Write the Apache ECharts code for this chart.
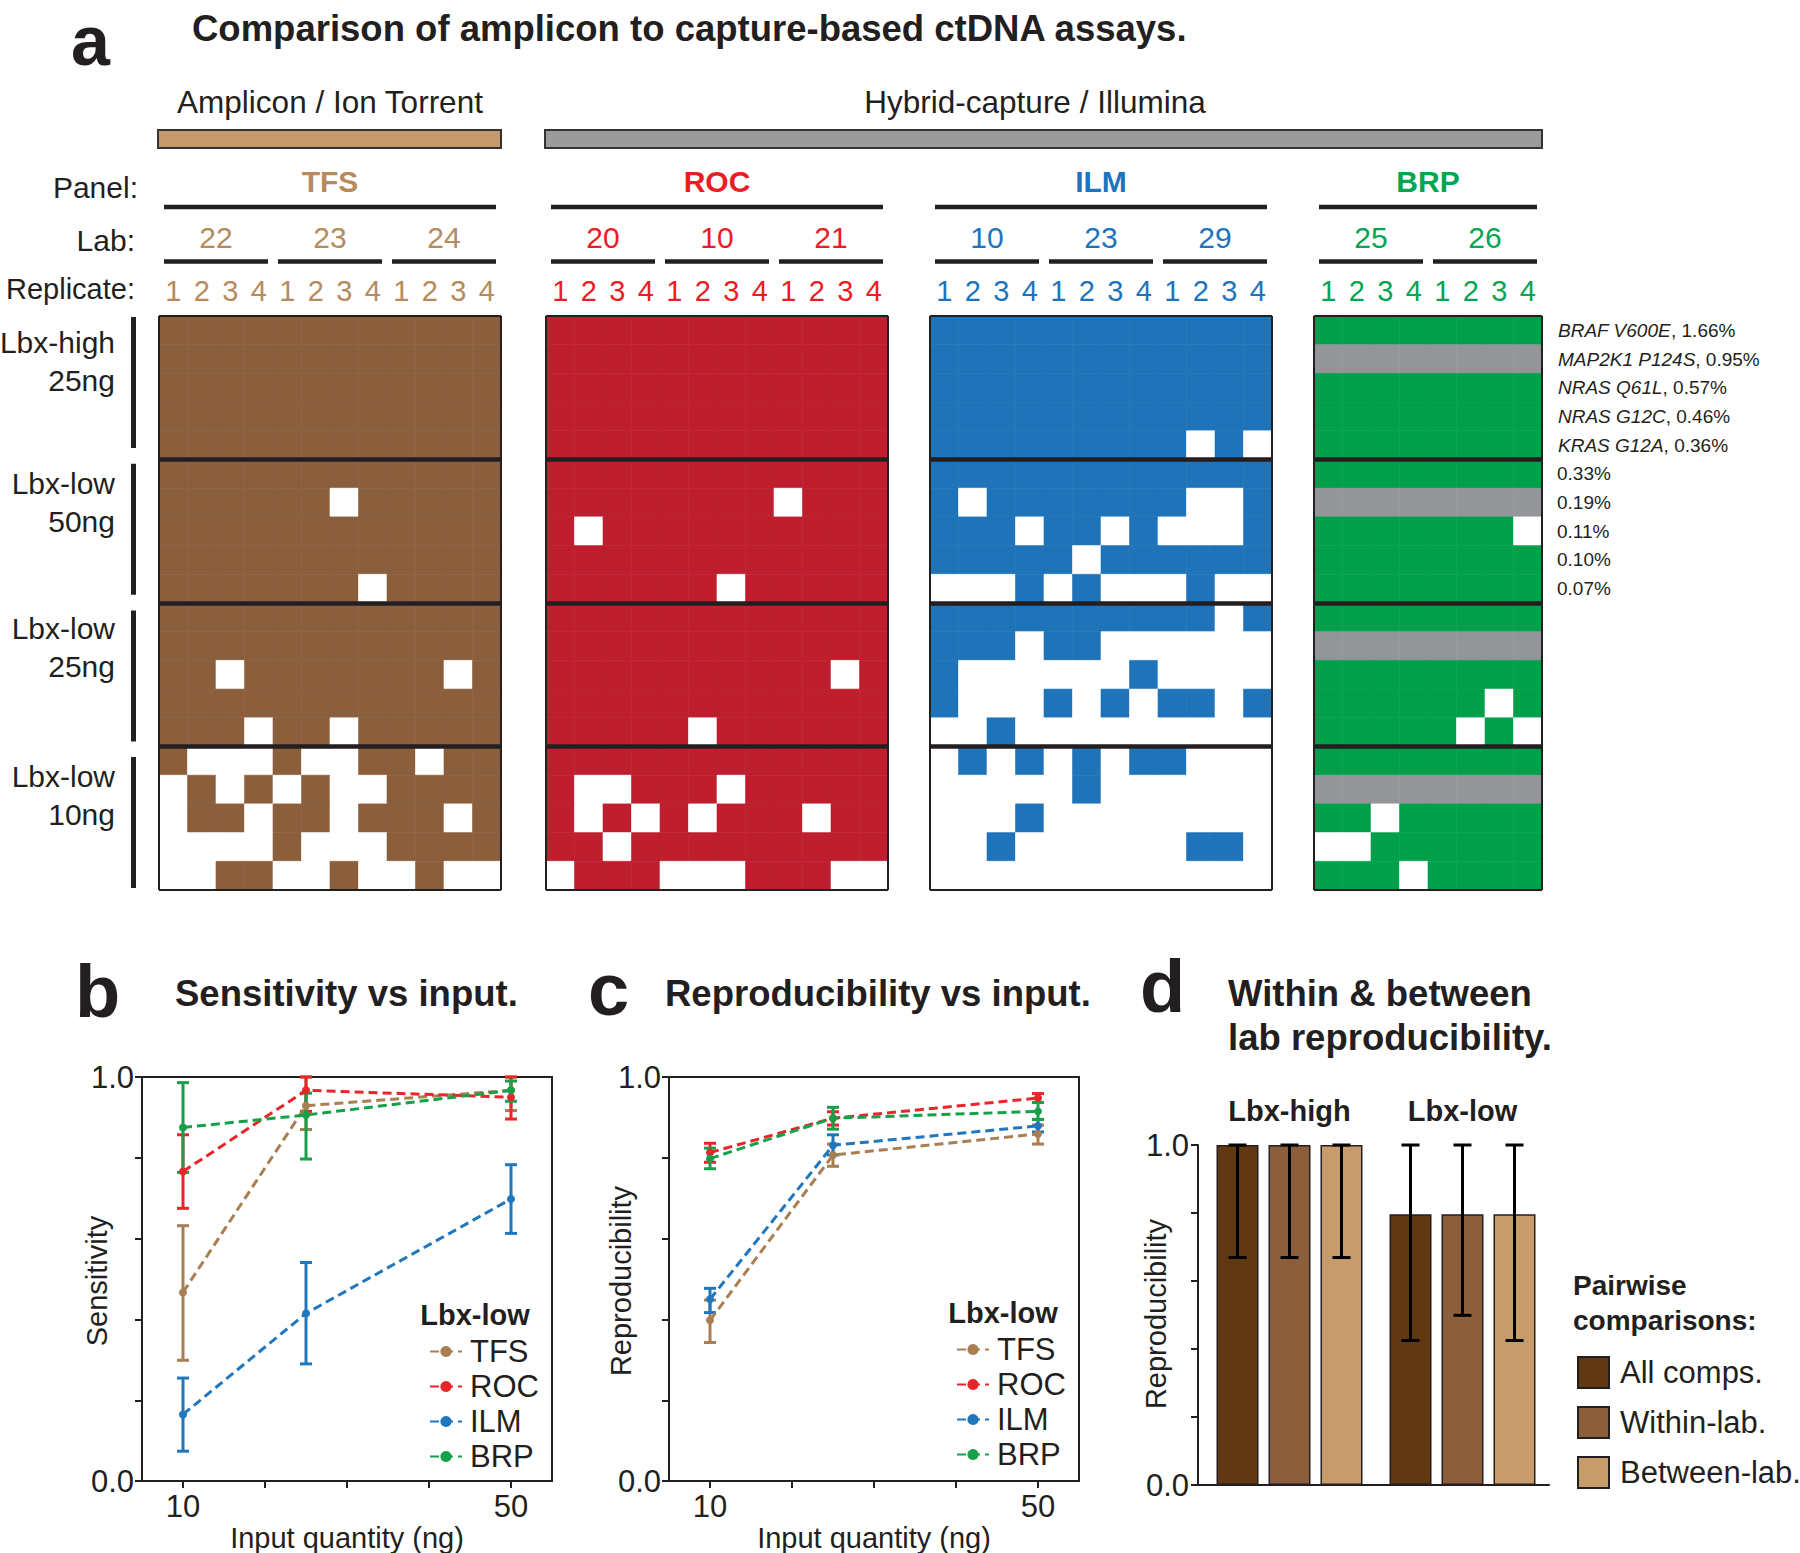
<!DOCTYPE html>
<html><head><meta charset="utf-8">
<script src="https://cdn.jsdelivr.net/npm/echarts@6/dist/echarts.min.js"></script>
<style>html,body{margin:0;padding:0;background:#fff}#c{width:1800px;height:1553px}</style>
</head><body><div id="c"></div>
<script>
// ================= DATA =================
const replicateLabels = ['1', '2', '3', '4'];
const tfsLabs = ['22', '23', '24'];
const rocLabs = ['20', '10', '21'];
const ilmLabs = ['10', '23', '29'];
const brpLabs = ['25', '26'];
const rowGroupNames = [['Lbx-high', '25ng'], ['Lbx-low', '50ng'], ['Lbx-low', '25ng'], ['Lbx-low', '10ng']];
const mutGenes = ['BRAF V600E', 'MAP2K1 P124S', 'NRAS Q61L', 'NRAS G12C', 'KRAS G12A'];
const vafHigh = ['1.66%', '0.95%', '0.57%', '0.46%', '0.36%'];
const vafLow = ['0.33%', '0.19%', '0.11%', '0.10%', '0.07%'];

// variant calls per row (5 variants x 4 samples), per column (lab x replicate)
// 1 = detected, 0 = not detected, x = not in panel
const tfsCalls = [
  '111111111111', '111111111111', '111111111111', '111111111111', '111111111111',
  '111111111111', '111111011111', '111111111111', '111111111111', '111111101111',
  '111111111111', '111111111111', '110111111101', '111111111111', '111011011111',
  '100010011011', '010101001111', '011011011101', '000010001111', '001100100100'
];
const rocCalls = [
  '111111111111', '111111111111', '111111111111', '111111111111', '111111111111',
  '111111111111', '111111110111', '101111111111', '111111111111', '111111011111',
  '111111111111', '111111111111', '111111111101', '111111111111', '111110111111',
  '111111111111', '100111011111', '101010111011', '110111111111', '011100011100'
];
const ilmCalls = [
  '111111111111', '111111111111', '111111111111', '111111111111', '111111111010',
  '111111111111', '101111111001', '111011010001', '111110111111', '000101000100',
  '111111111101', '111011000000', '100000010000', '100010101101', '001000000000',
  '010101011000', '000001000000', '000100000000', '001000000110', '000000000000'
];
const brpCalls = [
  '11111111', 'xxxxxxxx', '11111111', '11111111', '11111111',
  '11111111', 'xxxxxxxx', '11111110', '11111111', '11111111',
  '11111111', 'xxxxxxxx', '11111111', '11111101', '11111010',
  '11111111', 'xxxxxxxx', '11011111', '00111111', '11101111'
];

// panels b & c
const inputNg = [10, 25, 50];
const inputTicks = [10, 20, 30, 40, 50];
const inputLabels = [10, 50];
const sensTFS = [0.467, 0.929, 0.967], sensTFSLo = [0.299, 0.870, 0.917], sensTFSHi = [0.632, 1.0, 1.0];
const sensROC = [0.766, 0.967, 0.950], sensROCLo = [0.675, 0.915, 0.896], sensROCHi = [0.857, 1.0, 1.0];
const sensILM = [0.165, 0.415, 0.698], sensILMLo = [0.074, 0.290, 0.613], sensILMHi = [0.255, 0.541, 0.783];
const sensBRP = [0.875, 0.906, 0.967], sensBRPLo = [0.764, 0.797, 0.940], sensBRPHi = [0.986, 0.960, 0.990];

const repTFS = [0.398, 0.807, 0.859], repTFSLo = [0.343, 0.779, 0.834], repTFSHi = [0.448, 0.834, 0.881];
const repROC = [0.813, 0.898, 0.948], repROCLo = [0.789, 0.881, 0.937], repROCHi = [0.836, 0.914, 0.959];
const repILM = [0.450, 0.831, 0.879], repILMLo = [0.417, 0.807, 0.864], repILMHi = [0.477, 0.857, 0.895];
const repBRP = [0.798, 0.898, 0.915], repBRPLo = [0.773, 0.871, 0.895], repBRPHi = [0.824, 0.925, 0.937];

// panel d
const pairGroups = ['Lbx-high', 'Lbx-low'];
const pairTypes = ['All comps.', 'Within-lab.', 'Between-lab.'];
const reproAll = [1.0, 0.796], reproAllLo = [0.669, 0.425], reproAllHi = [1.0, 1.0];
const reproWithin = [1.0, 0.796], reproWithinLo = [0.669, 0.499], reproWithinHi = [1.0, 1.0];
const reproBetween = [1.0, 0.796], reproBetweenLo = [0.669, 0.425], reproBetweenHi = [1.0, 1.0];

// ================= STYLE / LAYOUT =================
const FONT = '"Liberation Sans", Arial, Helvetica, sans-serif';
const INK = '#231f20';
const GRAY = '#939598';
const HM_TOP = 316, HM_H = 574;
const panels = [
  { name: 'TFS', calls: tfsCalls, labs: tfsLabs, fill: '#8B5E3C', text: '#B68B5C', left: 159, width: 342 },
  { name: 'ROC', calls: rocCalls, labs: rocLabs, fill: '#BE1E2D', text: '#EC1C24', left: 546, width: 342 },
  { name: 'ILM', calls: ilmCalls, labs: ilmLabs, fill: '#1F73B9', text: '#1C75BC', left: 930, width: 342 },
  { name: 'BRP', calls: brpCalls, labs: brpLabs, fill: '#00A04B', text: '#00A651', left: 1314, width: 228 }
];
const lineColors = { TFS: '#A87E52', ROC: '#E8262A', ILM: '#2177BD', BRP: '#16A04A' };
const barColors = ['#603913', '#8B5E3C', '#C69C6D'];
const rowLabelY = [342, 483, 628, 776];

const chart = echarts.init(document.getElementById('c'), null, { renderer: 'svg', width: 1800, height: 1553 });
const grid = [], xAxis = [], yAxis = [], series = [], graphic = [];

function txt(x, y, text, o, extra) {
  graphic.push(Object.assign({ type: 'text', x, y, silent: true, z: 10,
    style: Object.assign({ text, fontFamily: FONT, fontSize: 29, fill: INK, align: 'left', verticalAlign: 'middle' }, o || {}) }, extra || {}));
}
function seg(x1, y1, x2, y2, w, color) {
  graphic.push({ type: 'line', silent: true, z: 10, shape: { x1, y1, x2, y2 }, style: { stroke: color || INK, lineWidth: w } });
}

// ---------- panel a : heatmaps ----------
panels.forEach((p, i) => {
  const nCols = p.calls[0].length, nRows = p.calls.length;
  grid.push({ left: p.left, top: HM_TOP, width: p.width, height: HM_H });
  xAxis.push({ gridIndex: i, type: 'value', min: 0, max: nCols, show: false });
  yAxis.push({ gridIndex: i, type: 'value', min: 0, max: nRows, inverse: true, show: false });
  const data = [];
  p.calls.forEach((row, r) => row.split('').forEach((ch, c) => data.push([c, r, ch === '1' ? 1 : (ch === '0' ? 0 : 2)])));
  const sepData = [];
  for (let b = 5; b < nRows; b += 5) sepData.push({ yAxis: b, lineStyle: { width: 4.5 } });
  sepData.push({ yAxis: 0, lineStyle: { width: 2 } }, { yAxis: nRows, lineStyle: { width: 2 } },
               { xAxis: 0, lineStyle: { width: 2 } }, { xAxis: nCols, lineStyle: { width: 2 } });
  series.push({
    type: 'custom', name: p.name + ' calls', xAxisIndex: i, yAxisIndex: i, data, silent: true,
    renderItem: (params, api) => {
      const c = api.value(0), r = api.value(1), s = api.value(2);
      const a = api.coord([c, r]), b = api.coord([c + 1, r + 1]);
      const col = s === 1 ? p.fill : (s === 2 ? GRAY : '#ffffff');
      return { type: 'rect', shape: { x: a[0], y: a[1], width: b[0] - a[0], height: b[1] - a[1] },
               style: { fill: col, stroke: col, lineWidth: 0.6 } };
    },
    markLine: { silent: true, symbol: ['none', 'none'], label: { show: false }, animation: false,
                lineStyle: { color: INK, type: 'solid' }, emphasis: { disabled: true }, data: sepData }
  });

  // headers
  const cw = p.width / nCols, right = p.left + p.width;
  txt(p.left + p.width / 2, 181, p.name, { align: 'center', fontSize: 30, fontWeight: 'bold', fill: p.text });
  seg(p.left + 5, 207, right - 5, 207, 4.5);
  p.labs.forEach((lab, j) => {
    const gx = p.left + j * 4 * cw;
    txt(gx + 2 * cw, 237, lab, { align: 'center', fontSize: 30, fill: p.text });
    seg(gx + 5, 261.5, gx + 4 * cw - 5, 261.5, 4.5);
  });
  for (let k = 0; k < nCols; k++) {
    txt(p.left + (k + 0.5) * cw, 291, replicateLabels[k % 4], { align: 'center', fontSize: 29, fill: p.text });
  }
});

// platform bars
const pT = panels[0], pR = panels[1], pB = panels[3];
graphic.push({ type: 'rect', silent: true, z: 10, shape: { x: pT.left - 1, y: 130, width: pT.width + 1, height: 18 },
  style: { fill: '#C49A6C', stroke: '#333333', lineWidth: 2 } });
graphic.push({ type: 'rect', silent: true, z: 10, shape: { x: pR.left - 1, y: 130, width: pB.left + pB.width - pR.left + 1, height: 18 },
  style: { fill: '#9B9B9B', stroke: '#333333', lineWidth: 2 } });
txt(pT.left + pT.width / 2, 102, 'Amplicon / Ion Torrent', { align: 'center', fontSize: 31.5 });
txt(1035, 102, 'Hybrid-capture / Illumina', { align: 'center', fontSize: 31.5 });

const BIG = { fontSize: 74, fontWeight: 'bold' };
txt(71, 41, 'a', { fontSize: 70, fontWeight: 'bold' });
txt(192, 28, 'Comparison of amplicon to capture-based ctDNA assays.', { fontSize: 36.5, fontWeight: 'bold' });
txt(138, 187, 'Panel:', { align: 'right', fontSize: 30 });
txt(135, 240, 'Lab:', { align: 'right', fontSize: 30 });
txt(135, 289, 'Replicate:', { align: 'right', fontSize: 29 });

rowGroupNames.forEach((nm, g) => {
  const top = 317 + 146.7 * g;
  seg(133.5, top, 133.5, top + 131, 5);
  txt(115, rowLabelY[g], nm[0], { align: 'right', fontSize: 30 });
  txt(115, rowLabelY[g] + 38, nm[1], { align: 'right', fontSize: 30 });
});

const rowH = HM_H / 20;
mutGenes.forEach((g, k) => {
  txt(1558, HM_TOP + rowH * (k + 0.5), '{i|' + g + '}, ' + vafHigh[k], {
    fontSize: 19, rich: { i: { fontStyle: 'italic', fontSize: 19, fontFamily: FONT, fill: INK } } });
});
vafLow.forEach((v, k) => {
  txt(1557, HM_TOP + rowH * (k + 5.5), v, { fontSize: 19 });
});

// ---------- panels b & c ----------
function errRender(color, cap, w) {
  return (params, api) => {
    const x = api.value(0), lo = api.value(1), hi = api.value(2);
    const a = api.coord([x, lo]), b = api.coord([x, hi]);
    const st = { stroke: color, lineWidth: w };
    return { type: 'group', children: [
      { type: 'line', shape: { x1: a[0], y1: a[1], x2: b[0], y2: b[1] }, style: st },
      { type: 'line', shape: { x1: a[0] - cap / 2, y1: a[1], x2: a[0] + cap / 2, y2: a[1] }, style: st },
      { type: 'line', shape: { x1: b[0] - cap / 2, y1: b[1], x2: b[0] + cap / 2, y2: b[1] }, style: st }
    ] };
  };
}
const yFmt = v => (Math.abs(v) < 1e-6 ? '0.0' : (Math.abs(v - 1) < 1e-6 ? '1.0' : ''));
const ROT = { rotation: Math.PI / 2 };

function linePanel(gi, left, yName, nameX, sets) {
  grid.push({ left, top: 1077, width: 410, height: 408, show: true, borderColor: INK, borderWidth: 2 });
  xAxis.push({ gridIndex: gi, type: 'value', min: 5, max: 55,
    axisLine: { lineStyle: { color: INK, width: 2 } },
    axisTick: { customValues: inputTicks, length: 7, lineStyle: { color: INK, width: 2 } },
    axisLabel: { customValues: inputLabels, fontSize: 31, color: INK, margin: 10, fontFamily: FONT },
    splitLine: { show: false },
    name: 'Input quantity (ng)', nameLocation: 'middle', nameGap: 40,
    nameTextStyle: { fontSize: 29, color: INK, fontFamily: FONT } });
  yAxis.push({ gridIndex: gi, type: 'value', min: 0, max: 1, interval: 0.2,
    axisLine: { show: true, lineStyle: { color: INK, width: 2 } },
    axisTick: { show: true, length: 7, lineStyle: { color: INK, width: 2 } },
    axisLabel: { formatter: yFmt, fontSize: 31, color: INK, margin: 8, fontFamily: FONT },
    splitLine: { show: false } });
  txt(nameX, 1281, yName, { align: 'center', fontSize: 29 }, ROT);
  sets.forEach(s => {
    const c = lineColors[s.name];
    series.push({ type: 'custom', name: s.name + ' range', xAxisIndex: gi, yAxisIndex: gi, silent: true, z: 3,
      data: inputNg.map((x, k) => [x, s.lo[k], s.hi[k]]), renderItem: errRender(c, 12, 3) });
    series.push({ type: 'line', name: s.name, xAxisIndex: gi, yAxisIndex: gi, silent: true, z: 4,
      data: inputNg.map((x, k) => [x, s.mean[k]]), symbol: 'circle', symbolSize: 8,
      lineStyle: { color: c, width: 3, type: [9, 5] }, itemStyle: { color: c } });
  });
}
linePanel(4, 142, 'Sensitivity', 97, [
  { name: 'TFS', mean: sensTFS, lo: sensTFSLo, hi: sensTFSHi },
  { name: 'ROC', mean: sensROC, lo: sensROCLo, hi: sensROCHi },
  { name: 'ILM', mean: sensILM, lo: sensILMLo, hi: sensILMHi },
  { name: 'BRP', mean: sensBRP, lo: sensBRPLo, hi: sensBRPHi }
]);
linePanel(5, 669, 'Reproducibility', 621, [
  { name: 'TFS', mean: repTFS, lo: repTFSLo, hi: repTFSHi },
  { name: 'ROC', mean: repROC, lo: repROCLo, hi: repROCHi },
  { name: 'ILM', mean: repILM, lo: repILMLo, hi: repILMHi },
  { name: 'BRP', mean: repBRP, lo: repBRPLo, hi: repBRPHi }
]);

txt(75, 991, 'b', BIG);
txt(175, 993, 'Sensitivity vs input.', { fontSize: 36.5, fontWeight: 'bold' });
txt(588, 989, 'c', BIG);
txt(665, 993, 'Reproducibility vs input.', { fontSize: 36.5, fontWeight: 'bold' });
txt(475, 1315, 'Lbx-low', { align: 'center', fontSize: 29, fontWeight: 'bold' });
txt(1003, 1313, 'Lbx-low', { align: 'center', fontSize: 29, fontWeight: 'bold' });

// ---------- panel d ----------
const D_LEFT = 1203, D_AXIS = 1198;
grid.push({ left: D_LEFT, top: 1145, width: 346, height: 340 });
xAxis.push({ gridIndex: 6, type: 'category', data: pairGroups,
  axisLine: { lineStyle: { color: INK, width: 2 } }, axisTick: { show: false }, axisLabel: { show: false } });
xAxis.push({ gridIndex: 6, type: 'category', data: pairGroups, position: 'top',
  axisLine: { show: false }, axisTick: { show: false },
  axisLabel: { fontSize: 29, fontWeight: 'bold', color: INK, margin: 20, fontFamily: FONT } });
yAxis.push({ gridIndex: 6, type: 'value', min: 0, max: 1, interval: 0.2, offset: D_LEFT - D_AXIS,
  axisLine: { show: true, lineStyle: { color: INK, width: 2 } },
  axisTick: { show: true, length: 7, lineStyle: { color: INK, width: 2 } },
  axisLabel: { formatter: yFmt, fontSize: 31, color: INK, margin: 9, fontFamily: FONT },
  splitLine: { show: false } });
seg(D_AXIS - 1, 1485, D_LEFT + 1, 1485, 2);
txt(1156, 1314, 'Reproducibility', { align: 'center', fontSize: 29 }, ROT);

const BAR_W = 42, BAR_GAP = 10;
const barSets = [
  { name: pairTypes[0], v: reproAll, lo: reproAllLo, hi: reproAllHi },
  { name: pairTypes[1], v: reproWithin, lo: reproWithinLo, hi: reproWithinHi },
  { name: pairTypes[2], v: reproBetween, lo: reproBetweenLo, hi: reproBetweenHi }
];
barSets.forEach((s, k) => {
  series.push({ type: 'bar', name: s.name, xAxisIndex: 6, yAxisIndex: 6, silent: true, data: s.v,
    barWidth: BAR_W, barGap: (BAR_GAP / BAR_W * 100).toFixed(1) + '%',
    itemStyle: { color: barColors[k], borderColor: INK, borderWidth: 1.5 } });
});
barSets.forEach((s, k) => {
  const dx = (k - 1) * (BAR_W + BAR_GAP);
  series.push({ type: 'custom', name: s.name + ' range', xAxisIndex: 6, yAxisIndex: 6, silent: true, z: 5,
    data: s.v.map((v, g) => [g, s.lo[g], s.hi[g]]),
    renderItem: (params, api) => {
      const a = api.coord([api.value(0), api.value(1)]), b = api.coord([api.value(0), api.value(2)]);
      const x = a[0] + dx, st = { stroke: '#000000', lineWidth: 3 };
      return { type: 'group', children: [
        { type: 'line', shape: { x1: x, y1: a[1], x2: x, y2: b[1] }, style: st },
        { type: 'line', shape: { x1: x - 9, y1: a[1], x2: x + 9, y2: a[1] }, style: st },
        { type: 'line', shape: { x1: x - 9, y1: b[1], x2: x + 9, y2: b[1] }, style: st }
      ] };
    } });
});

txt(1140, 986, 'd', BIG);
txt(1228, 993, 'Within & between', { fontSize: 36.5, fontWeight: 'bold' });
txt(1228, 1037, 'lab reproducibility.', { fontSize: 36.5, fontWeight: 'bold' });
txt(1573, 1285, 'Pairwise', { fontSize: 28, fontWeight: 'bold' });
txt(1573, 1320, 'comparisons:', { fontSize: 28, fontWeight: 'bold' });

const lineLegend = (left, top) => ({
  left, top, orient: 'vertical', selectedMode: false, data: ['TFS', 'ROC', 'ILM', 'BRP'],
  itemWidth: 32, itemHeight: 14, itemGap: 4,
  textStyle: { fontSize: 31, lineHeight: 28, color: INK, fontFamily: FONT, padding: [0, 0, 0, 3] }
});

chart.setOption({
  animation: false,
  textStyle: { fontFamily: FONT },
  grid, xAxis, yAxis, series,
  legend: [
    lineLegend(424, 1331),
    lineLegend(951, 1329),
    { left: 1572, top: 1351, orient: 'vertical', selectedMode: false, data: pairTypes, icon: 'rect',
      itemWidth: 31, itemHeight: 31, itemGap: 17,
      textStyle: { fontSize: 31, color: INK, fontFamily: FONT, padding: [0, 0, 0, 6] } }
  ],
  graphic
});
</script>
</body></html>
